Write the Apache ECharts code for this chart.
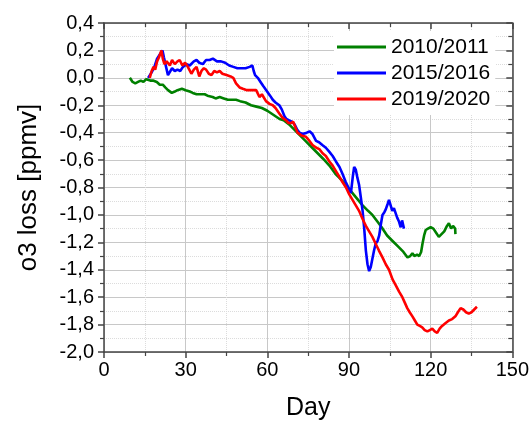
<!DOCTYPE html>
<html>
<head>
<meta charset="utf-8">
<script src="https://cdn.jsdelivr.net/npm/echarts@6/dist/echarts.min.js"></script>
<style>
html,body{margin:0;padding:0;background:#fff;}
#chart{width:532px;height:426px;}
</style>
</head>
<body>
<div id="chart"></div>
<script>
var seriesNames = ['2010/2011', '2015/2016', '2019/2020'];
var xTicks = [0, 30, 60, 90, 120, 150];

var greenDays = [9.5,10.5,11.5,12.5,13.5,14.5,15.5,16.2,17,18,19.4,20.5,21.6,22.5,23.5,24.9,26,27,28.6,30,31.5,32.6,34,35.5,37,38,39.9,41,42.5,44,45.5,47,48.5,50,52,54,56,58,60,61.5,63,64.5,66,68,70,72,74,76.5,78.5,80.5,82.8,85,87.5,90,92.5,95,97,98.6,100.5,102,104,106,108,110,111.5,112.5,113.3,114,115,115.8,116.5,117,117.6,118.2,119,120,121,122,123,124,125,126,126.7,127.5,128.2,129,129.1];
var greenVals = [0.00,-0.03,-0.04,-0.03,-0.02,-0.03,-0.01,0.00,-0.02,-0.02,-0.03,-0.05,-0.05,-0.07,-0.09,-0.11,-0.10,-0.09,-0.08,-0.09,-0.10,-0.11,-0.12,-0.12,-0.12,-0.13,-0.14,-0.15,-0.14,-0.15,-0.16,-0.16,-0.16,-0.17,-0.18,-0.20,-0.21,-0.22,-0.24,-0.26,-0.28,-0.30,-0.31,-0.34,-0.38,-0.42,-0.46,-0.51,-0.55,-0.59,-0.64,-0.70,-0.75,-0.81,-0.87,-0.93,-0.97,-1.00,-1.05,-1.09,-1.15,-1.19,-1.23,-1.27,-1.31,-1.30,-1.28,-1.30,-1.29,-1.30,-1.27,-1.21,-1.15,-1.11,-1.10,-1.09,-1.10,-1.13,-1.16,-1.14,-1.12,-1.08,-1.06,-1.10,-1.08,-1.10,-1.14];

var blueDays = [16.2,17.5,18.5,19.5,20.5,21.5,22,22.8,23.5,24.2,25,26,27,28,29,30.3,31.5,33,34,35,36.3,37.5,38.8,40,41.5,43,44.5,46,47.5,49,50.5,52,53.5,54.5,55,55.5,56.5,57.5,58.5,59.6,61,62,63,64.4,65.3,66.3,67,68,69,70,71,71.8,73,73.6,74.5,75.5,76.6,77.9,79,80.2,81.5,82.8,84,85.2,86.5,87.6,88.8,90,90.7,91.4,91.9,92.5,93.1,93.7,94.4,95,95.6,96.2,96.8,97.4,98,98.6,99.2,99.8,100.5,101.1,101.7,102.3,103,103.5,104.2,104.7,105.3,105.9,106.5,107,107.7,108.4,109,109.5,110.2];
var blueVals = [0.00,0.04,0.08,0.14,0.17,0.20,0.15,0.08,0.02,0.03,0.07,0.05,0.06,0.05,0.08,0.10,0.09,0.12,0.13,0.11,0.10,0.13,0.13,0.14,0.12,0.12,0.11,0.09,0.08,0.07,0.07,0.07,0.08,0.09,0.05,0.02,0.00,-0.03,-0.06,-0.09,-0.13,-0.16,-0.18,-0.20,-0.23,-0.28,-0.30,-0.31,-0.32,-0.34,-0.38,-0.40,-0.41,-0.42,-0.40,-0.39,-0.41,-0.46,-0.47,-0.49,-0.51,-0.54,-0.57,-0.61,-0.65,-0.70,-0.76,-0.81,-0.84,-0.72,-0.65,-0.67,-0.73,-0.78,-0.88,-0.97,-1.10,-1.26,-1.36,-1.41,-1.38,-1.32,-1.26,-1.21,-1.19,-1.15,-1.07,-1.00,-0.98,-0.96,-0.92,-0.89,-0.93,-0.97,-0.95,-0.96,-1.02,-1.05,-1.09,-1.04,-1.10];

var redDays = [16.8,17.5,18.2,18.8,19.5,20.2,21.1,21.6,22.2,23,24.2,25,26,27,27.8,28.8,29.8,30.8,32.1,33,34,35,35.8,36.7,37.5,38.5,39.5,40.5,41.5,42.5,43.5,45,46.5,47.5,48.5,49.8,51,52.5,54,55.9,57.1,58,59.5,60.8,62,63,64.4,65.5,66.9,67.8,68.7,69.5,70.3,71.1,72.5,74.2,75.5,76.6,78,79.1,80.3,81.5,82.8,84,85.2,86.4,87.6,88.9,90.1,91.3,92.5,93.7,95,96.2,97.4,98.6,99.8,101,102.3,103.5,104.7,106,107.1,108.4,109.6,110.5,111.4,112.3,113.3,114.2,115.1,116,116.9,117.8,118.8,119.7,120.6,121.5,122.4,123.3,124.2,125.4,126.7,127.9,129.1,130,131,132,133,134,135,136,137];
var redVals = [0.00,0.05,0.08,0.06,0.12,0.15,0.20,0.14,0.10,0.12,0.09,0.13,0.10,0.12,0.13,0.09,0.11,0.08,0.03,0.06,0.08,0.01,0.05,0.07,0.06,0.03,0.02,0.05,0.04,0.05,0.03,0.02,0.01,0.00,-0.04,-0.07,-0.08,-0.09,-0.09,-0.09,-0.14,-0.12,-0.17,-0.19,-0.20,-0.22,-0.26,-0.29,-0.31,-0.33,-0.33,-0.32,-0.36,-0.40,-0.42,-0.43,-0.46,-0.49,-0.51,-0.52,-0.55,-0.57,-0.61,-0.64,-0.68,-0.72,-0.76,-0.80,-0.85,-0.89,-0.93,-0.97,-1.03,-1.08,-1.12,-1.16,-1.21,-1.26,-1.31,-1.36,-1.40,-1.47,-1.51,-1.56,-1.60,-1.64,-1.68,-1.71,-1.74,-1.77,-1.80,-1.81,-1.82,-1.84,-1.85,-1.84,-1.83,-1.85,-1.86,-1.83,-1.81,-1.79,-1.77,-1.76,-1.74,-1.71,-1.68,-1.69,-1.71,-1.72,-1.71,-1.69,-1.67];

var colors = ['#008000', '#0000ff', '#ff0000'];

function zip(a, b) { return a.map(function (d, i) { return [d, b[i]]; }); }
var allDays = [greenDays, blueDays, redDays];
var allVals = [greenVals, blueVals, redVals];

var chart = echarts.init(document.getElementById('chart'), null, {renderer: 'canvas'});
var fontFam = '"Liberation Sans", Arial, sans-serif';
var axisLineStyle = {color: '#444', width: 1.5};

function yFmt(v) {
  var r = Math.round(v * 10) / 10;
  if (Math.abs(r) < 1e-9) r = 0;
  return r.toFixed(1).replace('.', ',');
}

var option = {
  animation: false,
  backgroundColor: '#fff',
  grid: {left: 104, right: 18, top: 23, bottom: 74, containLabel: false},
  legend: {
    data: seriesNames,
    orient: 'vertical',
    left: 334,
    top: 31,
    backgroundColor: '#fff',
    padding: [5, 5, 5, 3],
    itemGap: 4,
    itemWidth: 49,
    itemHeight: 3,
    icon: 'rect',
    textStyle: {fontSize: 21, color: '#000', fontFamily: fontFam, lineHeight: 22}
  },
  xAxis: [{
    type: 'value', min: xTicks[0], max: xTicks[xTicks.length - 1], interval: 30,
    position: 'bottom',
    axisLine: {show: true, onZero: false, lineStyle: axisLineStyle},
    axisTick: {show: true, inside: false, length: 6, lineStyle: axisLineStyle},
    minorTick: {show: true, splitNumber: 2, length: 4, lineStyle: {color: '#444', width: 1.2}},
    splitLine: {show: true, lineStyle: {color: '#c8c8c8', width: 1}},
    minorSplitLine: {show: true, lineStyle: {color: '#dcdcdc', width: 1, type: 'dotted'}},
    axisLabel: {fontSize: 20, color: '#000', margin: 8, fontFamily: fontFam},
    name: 'Day', nameLocation: 'middle', nameGap: 44,
    nameTextStyle: {fontSize: 25, color: '#000', fontFamily: fontFam}
  }, {
    type: 'value', min: xTicks[0], max: xTicks[xTicks.length - 1], interval: 30,
    position: 'top',
    axisLine: {show: true, onZero: false, lineStyle: axisLineStyle},
    axisTick: {show: true, inside: true, length: 6, lineStyle: axisLineStyle},
    minorTick: {show: true, splitNumber: 2, length: 4, lineStyle: {color: '#444', width: 1.2}},
    splitLine: {show: false},
    axisLabel: {show: false}
  }],
  yAxis: [{
    type: 'value', min: -2, max: 0.4, interval: 0.2,
    position: 'left',
    axisLine: {show: true, onZero: false, lineStyle: axisLineStyle},
    axisTick: {show: true, inside: false, length: 6, lineStyle: axisLineStyle},
    minorTick: {show: true, splitNumber: 2, length: 4, lineStyle: {color: '#444', width: 1.2}},
    splitLine: {show: true, lineStyle: {color: '#c8c8c8', width: 1}},
    minorSplitLine: {show: true, lineStyle: {color: '#dcdcdc', width: 1, type: 'dotted'}},
    axisLabel: {fontSize: 20, color: '#000', margin: 10, fontFamily: fontFam, formatter: yFmt},
    name: 'o3 loss [ppmv]', nameLocation: 'middle', nameGap: 62,
    nameTextStyle: {fontSize: 26, color: '#000', fontFamily: fontFam}
  }, {
    type: 'value', min: -2, max: 0.4, interval: 0.2,
    position: 'right',
    axisLine: {show: true, onZero: false, lineStyle: axisLineStyle},
    axisTick: {show: true, inside: true, length: 6, lineStyle: axisLineStyle},
    minorTick: {show: true, splitNumber: 2, length: 4, lineStyle: {color: '#444', width: 1.2}},
    splitLine: {show: false},
    axisLabel: {show: false}
  }],
  series: seriesNames.map(function (n, i) {
    return {
      name: n, type: 'line', xAxisIndex: 0, yAxisIndex: 0,
      data: zip(allDays[i], allVals[i]),
      showSymbol: false, symbol: 'none',
      color: colors[i],
      lineStyle: {color: colors[i], width: 2.6},
      z: 3 + i
    };
  })
};
chart.setOption(option);
</script>
</body>
</html>
